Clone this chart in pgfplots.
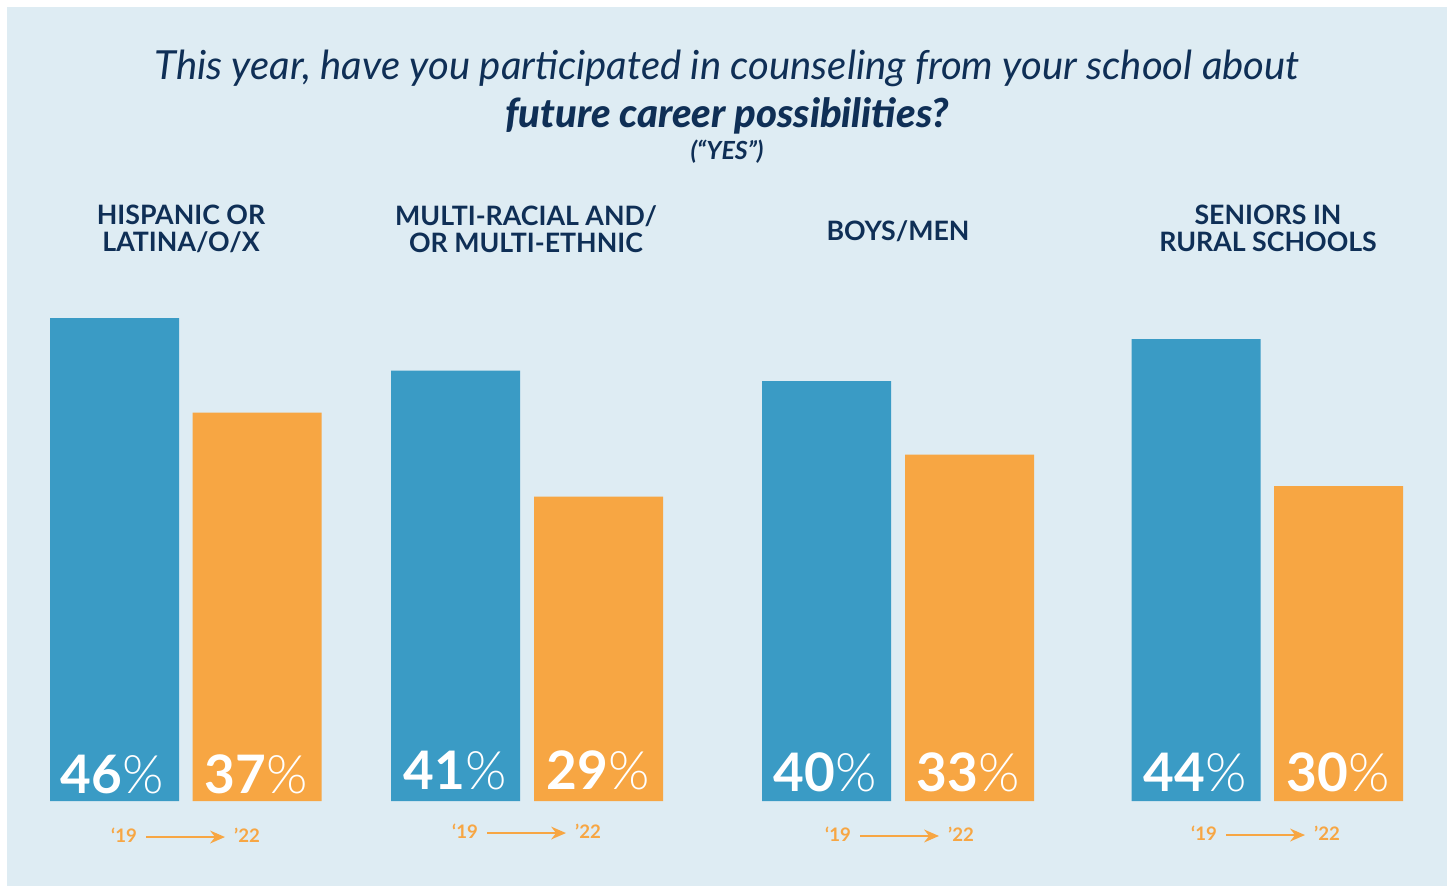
\documentclass[border=0pt]{standalone}
\usepackage{pgfplots}
\pgfplotsset{compat=1.18}
\usetikzlibrary{arrows.meta}
\usepackage{fontspec}
\setmainfont{Lato}
\newfontfamily\latolight{Lato Light}
\newfontfamily\latoblack{Lato Black}

\definecolor{bgblue}{HTML}{DEECF3}
\definecolor{barblue}{HTML}{3A9BC5}
\definecolor{barorange}{HTML}{F7A643}
\definecolor{navy}{HTML}{0F2F56}

% one axis unit in x = one pixel of the 1450x888 reference; y in percent (10.5 px per %)
\newcommand{\val}[2]{{\fontsize{15.1}{15}\selectfont\bfseries #1}{\latolight\fontsize{15.1}{15}\selectfont #2}}
\tikzset{
    yr/.style={anchor=base, text=barorange, font=\fontsize{5.3}{6}\selectfont\bfseries},
    arr/.style={barorange, line width=0.8pt, -{Stealth[length=4.2pt,width=3.6pt]}},
    grp/.style={text=navy, align=center, font=\fontsize{7.6}{7.7}\selectfont\bfseries},
}

\begin{document}
\begin{tikzpicture}
\fill[white] (0,0) rectangle (14.5cm,8.88cm);
\fill[bgblue] (0.07cm,0.02cm) rectangle (14.47cm,8.81cm);
\begin{axis}[
    at={(0,0)}, anchor=south west,
    scale only axis,
    width=14.5cm, height=8.88cm,
    xmin=0, xmax=1450,
    ymin=-8.2857, ymax=76.2857,
    hide axis,
    clip=false,
]
\addplot[ybar, bar width=129, bar shift=0pt, fill=barblue, draw=none] coordinates {
    (114.5,46) (455.5,41) (826.5,40) (1196,44)
};
\addplot[ybar, bar width=129, bar shift=0pt, fill=barorange, draw=none] coordinates {
    (257,37) (598.5,29) (969.5,33) (1338.5,30)
};

% values inside the bars
\node[anchor=base, text=white] at (axis cs:112,0.7) {\val{46}{\%}};
\node[anchor=base, text=white] at (axis cs:256,0.7) {\val{37}{\%}};
\node[anchor=base, text=white] at (axis cs:455,1.1) {\val{41}{\%}};
\node[anchor=base, text=white] at (axis cs:598,1.1) {\val{29}{\%}};
\node[anchor=base, text=white] at (axis cs:825,0.9) {\val{40}{\%}};
\node[anchor=base, text=white] at (axis cs:968,0.9) {\val{33}{\%}};
\node[anchor=base, text=white] at (axis cs:1195,0.9) {\val{44}{\%}};
\node[anchor=base, text=white] at (axis cs:1338,0.9) {\val{30}{\%}};

% title
\node[anchor=base, text=navy, font=\fontsize{11.4}{14}\selectfont\itshape] at (axis cs:727,68.67)
    {This year, have you participated in counseling from your school about};
\node[anchor=base, text=navy, font=\fontsize{11.4}{14}\selectfont\latoblack\itshape] at (axis cs:727,64.19)
    {future career possibilities?};
\node[anchor=base, text=navy, font=\fontsize{7.1}{8}\selectfont\bfseries\itshape] at (axis cs:727,61.1)
    {(“YES”)};

% group names
\node[grp] at (axis cs:181,54.5) {HISPANIC OR\\LATINA/O/X};
\node[grp] at (axis cs:526,54.5) {MULTI-RACIAL AND/\\OR MULTI-ETHNIC};
\node[grp] at (axis cs:898,54.3) {BOYS/MEN};
\node[grp] at (axis cs:1268,54.5) {SENIORS IN\\RURAL SCHOOLS};

% years
\node[yr] at (axis cs:124,-3.98) {‘19};
\node[yr] at (axis cs:247,-3.98) {’22};
\draw[arr] (axis cs:146,-3.43) -- (axis cs:225,-3.43);
\node[yr] at (axis cs:465,-3.6) {‘19};
\node[yr] at (axis cs:588,-3.6) {’22};
\draw[arr] (axis cs:487,-3.05) -- (axis cs:566,-3.05);
\node[yr] at (axis cs:838,-3.88) {‘19};
\node[yr] at (axis cs:961,-3.88) {’22};
\draw[arr] (axis cs:860,-3.33) -- (axis cs:939,-3.33);
\node[yr] at (axis cs:1204,-3.79) {‘19};
\node[yr] at (axis cs:1327,-3.79) {’22};
\draw[arr] (axis cs:1226,-3.24) -- (axis cs:1305,-3.24);
\end{axis}
\end{tikzpicture}
\end{document}
